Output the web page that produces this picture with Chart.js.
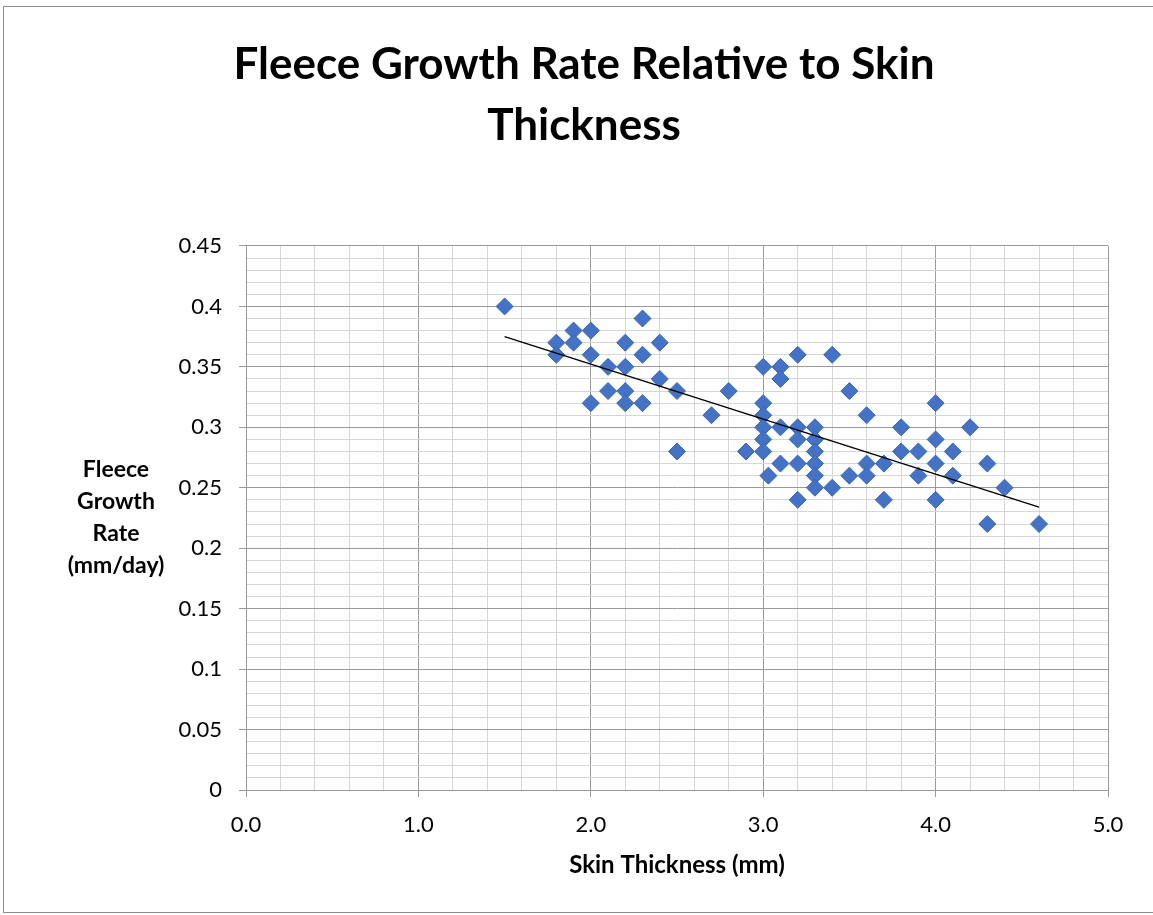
<!DOCTYPE html>
<html>
<head>
<meta charset="utf-8">
<script src="https://cdn.jsdelivr.net/npm/chart.js@4"></script>
<style>
  body { margin: 0; background: #fff; }
  #wrap { position: relative; width: 1153px; height: 915px; overflow: hidden; }
  #frame { position: absolute; left: 3px; top: 6px; width: 1170px; height: 905px; border: 1px solid #8c8c8c; pointer-events: none; }
  canvas { position: absolute; left: 0; top: 0; }
</style>
</head>
<body>
<div id="wrap">
  <canvas id="chart" width="1153" height="915"></canvas>
  <div id="frame"></div>
</div>
<script>
// Skin thickness (mm) and fleece growth rate (mm/day)
const skinThickness = [
  1.5, 1.8, 1.8, 1.9, 1.9, 2.0, 2.0, 2.0, 2.1, 2.1,
  2.2, 2.2, 2.2, 2.2, 2.3, 2.3, 2.3, 2.4, 2.4, 2.5,
  2.5, 2.7, 2.8, 2.9, 3.0, 3.0, 3.0, 3.0, 3.0, 3.0,
  3.03, 3.1, 3.1, 3.1, 3.1, 3.2, 3.2, 3.2, 3.2, 3.2,
  3.3, 3.3, 3.3, 3.3, 3.3, 3.3, 3.4, 3.4, 3.5, 3.5,
  3.6, 3.6, 3.6, 3.7, 3.7, 3.8, 3.8, 3.9, 3.9, 4.0,
  4.0, 4.0, 4.0, 4.1, 4.1, 4.2, 4.3, 4.3, 4.4, 4.6
];
const growthRate = [
  0.40, 0.37, 0.36, 0.38, 0.37, 0.38, 0.36, 0.32, 0.35, 0.33,
  0.37, 0.35, 0.33, 0.32, 0.39, 0.36, 0.32, 0.37, 0.34, 0.33,
  0.28, 0.31, 0.33, 0.28, 0.35, 0.32, 0.31, 0.30, 0.29, 0.28,
  0.26, 0.35, 0.34, 0.30, 0.27, 0.36, 0.30, 0.29, 0.27, 0.24,
  0.30, 0.29, 0.28, 0.27, 0.26, 0.25, 0.36, 0.25, 0.33, 0.26,
  0.31, 0.27, 0.26, 0.27, 0.24, 0.30, 0.28, 0.28, 0.26, 0.32,
  0.29, 0.27, 0.24, 0.28, 0.26, 0.30, 0.27, 0.22, 0.25, 0.22
];
// linear trend line end points
const trendX = [1.5, 4.6];
const trendY = [0.375, 0.234];

const titleLines = ['Fleece Growth Rate Relative to Skin', 'Thickness'];
const yTitleLines = ['Fleece', 'Growth', 'Rate', '(mm/day)'];
const xTitle = 'Skin Thickness (mm)';

const MAJOR = '#9a9a9a';
const MINOR = '#d6d6d6';

const isMultiple = (v, step) => Math.abs(v / step - Math.round(v / step)) < 1e-6;

const yTitlePlugin = {
  id: 'yTitle',
  afterDraw(chart) {
    const { ctx, chartArea } = chart;
    const mid = (chartArea.top + chartArea.bottom) / 2;
    ctx.save();
    ctx.font = 'bold 23px Lato';
    ctx.fillStyle = '#000';
    ctx.textAlign = 'center';
    ctx.textBaseline = 'middle';
    yTitleLines.forEach((line, i) => {
      ctx.fillText(line, 116, mid + (i - (yTitleLines.length - 1) / 2) * 32);
    });
    ctx.restore();
  }
};

new Chart(document.getElementById('chart'), {
  type: 'scatter',
  data: {
    datasets: [
      {
        label: 'Trend',
        type: 'line',
        data: trendX.map((x, i) => ({ x, y: trendY[i] })),
        borderColor: '#000',
        borderWidth: 1.5,
        pointRadius: 0,
        fill: false,
        order: 0
      },
      {
        label: 'Growth rate',
        data: skinThickness.map((x, i) => ({ x, y: growthRate[i] })),
        pointStyle: 'rectRot',
        pointRadius: 8.5,
        pointHoverRadius: 8.5,
        backgroundColor: '#4472c4',
        borderColor: '#3b66b6',
        borderWidth: 1,
        order: 1
      }
    ]
  },
  options: {
    responsive: false,
    animation: false,
    layout: { padding: { left: 60, right: 45, top: 0, bottom: 0 } },
    scales: {
      x: {
        type: 'linear',
        min: 0,
        max: 5,
        afterFit: (s) => { s.height = 125; },
        ticks: {
          stepSize: 0.2,
          autoSkip: false,
          maxRotation: 0,
          padding: 15,
          color: '#000',
          font: { family: 'Lato', size: 22 },
          callback: (v) => isMultiple(v, 1) ? v.toFixed(1) : ''
        },
        grid: {
          color: (c) => isMultiple(c.tick.value, 1) ? MAJOR : MINOR,
          tickColor: (c) => isMultiple(c.tick.value, 1) ? MAJOR : 'rgba(0,0,0,0)',
          tickLength: 7
        },
        border: { color: MAJOR },
        title: {
          display: true,
          text: xTitle,
          color: '#000',
          font: { family: 'Lato', size: 24, weight: 'bold' },
          padding: { top: 0, bottom: 35 }
        }
      },
      y: {
        type: 'linear',
        min: 0,
        max: 0.45,
        afterFit: (s) => { s.width = 186; },
        ticks: {
          stepSize: 0.01,
          autoSkip: false,
          padding: 17,
          color: '#000',
          font: { family: 'Lato', size: 22 },
          callback: (v) => isMultiple(v, 0.05) ? String(+v.toFixed(2)) : ''
        },
        grid: {
          color: (c) => isMultiple(c.tick.value, 0.05) ? MAJOR : MINOR,
          tickColor: (c) => isMultiple(c.tick.value, 0.05) ? MAJOR : 'rgba(0,0,0,0)',
          tickLength: 7
        },
        border: { color: MAJOR }
      }
    },
    plugins: {
      legend: { display: false },
      tooltip: { enabled: false },
      title: {
        display: true,
        text: titleLines,
        color: '#000',
        font: { family: 'Lato', size: 44, weight: 'bold', lineHeight: 1.386 },
        padding: { top: 34, bottom: 90 }
      }
    }
  },
  plugins: [yTitlePlugin]
});
</script>
</body>
</html>
